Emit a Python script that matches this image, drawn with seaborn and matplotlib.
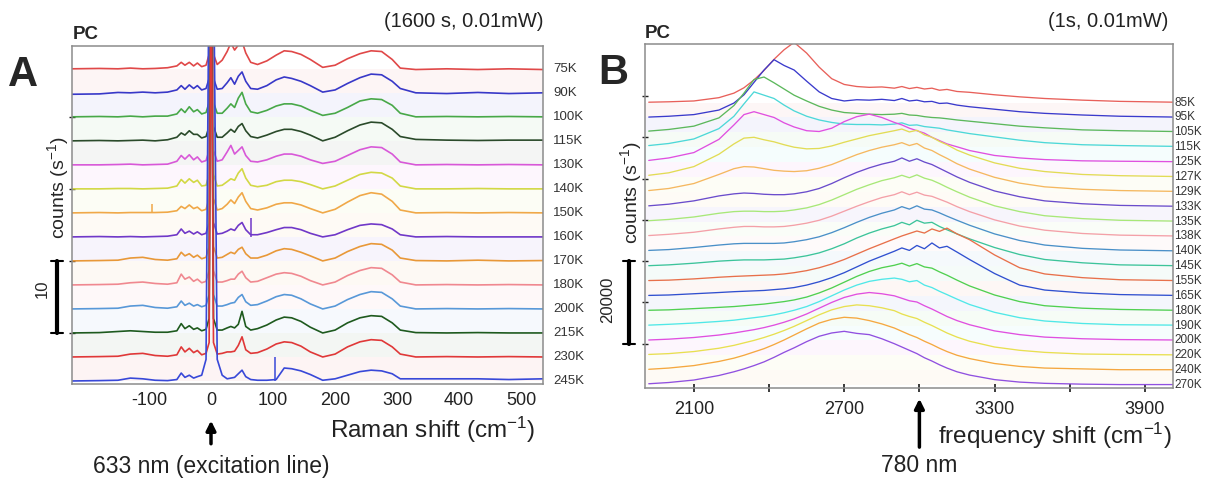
import numpy as np
import pandas as pd
import matplotlib
matplotlib.use("Agg")
import matplotlib.pyplot as plt
import seaborn as sns

sns.set_theme(style="white")
plt.rcParams["font.family"] = ["Liberation Sans", "DejaVu Sans"]
plt.rcParams["mathtext.default"] = "regular"

# ---------------- Panel A data (Raman shift, counts/s above each baseline) ----------------
A_X = [-224, -180, -150, -130, -110, -90, -70, -55, -48, -42, -35, -28, -22, -15, -8, -3, 0, 4, 10,
       18, 26, 32, 38, 44, 50, 56, 64, 75, 90, 105, 118, 130, 145, 160, 180, 200, 220, 240, 258,
       275, 292, 305, 330, 380, 430, 480, 535]
A_LABELS = ["75K", "90K", "100K", "115K", "130K", "140K", "150K", "160K", "170K", "180K",
            "200K", "215K", "230K", "245K"]
A_COLORS = ["#e04848", "#3838c8", "#48a848", "#2a4a2a", "#d858d8", "#d2d845", "#f0a848",
            "#7038c8", "#e89838", "#f08890", "#5898d8", "#1e5a1e", "#e03838", "#3848d8"]
a_75K = [0, 0.05, 0, 0.1, 0, 0.05, 0.15, 0.4, 0.9, 0.5, 0.9, 0.4, 0.8, 0.3, 0.5, 2, 60, 2, 0.6,
         1.2, 2.4, 3.6, 2.6, 3.3, 3.8, 2.2, 0.9, 0.6, 1.1, 1.9, 2.5, 2.4, 2.0, 1.3, 0.2, 0.5, 1.4,
         2.1, 2.5, 2.4, 1.3, 0.1, -0.1, 0, -0.1, 0, -0.1]
a_90K = [-0.2, -0.15, 0.05, 0, 0.1, 0, 0.1, 0.4, 1.0, 0.5, 1.1, 0.6, 1.0, 0.4, 0.6, 2, 60, 2, 0.5,
         0.6, 1.4, 2.1, 1.2, 2.3, 2.9, 1.6, 0.6, 0.5, 1.0, 1.8, 2.2, 2.0, 1.6, 1.0, 0.1, 0.4, 1.3,
         2.1, 2.6, 2.5, 1.6, 0.6, 0, -0.1, 0.05, -0.1, 0]
a_100K = [0, 0.05, 0, 0.1, 0, 0.1, 0.1, 0.4, 1.1, 0.6, 1.4, 0.7, 1.0, 0.4, 0.6, 2, 60, 2, 0.5,
          0.5, 1.2, 1.8, 1.3, 2.6, 3.4, 1.8, 0.7, 0.5, 0.9, 1.5, 1.8, 1.8, 1.5, 0.9, 0.2, 0.5, 1.3,
          2.2, 2.5, 2.4, 1.6, 0.5, 0, 0.05, 0, 0.05, 0]
a_115K = [0, 0.05, 0, 0.05, 0.1, 0, 0.15, 0.5, 1.1, 0.8, 1.4, 0.9, 0.9, 0.4, 0.6, 2, 60, 2, 0.5,
          0.5, 1.1, 1.6, 1.2, 2.0, 2.4, 1.4, 0.6, 0.4, 0.8, 1.3, 1.6, 1.6, 1.3, 0.8, 0, 0.5, 1.4,
          2.2, 2.6, 2.5, 1.6, 0.6, 0.2, 0.1, 0.05, 0.1, 0.1]
a_130K = [0, 0, 0.05, 0.1, 0, 0.05, 0.1, 0.5, 1.3, 0.8, 1.4, 0.7, 1.1, 0.4, 0.6, 2, 60, 2, 0.5,
          0.7, 1.8, 2.7, 1.5, 2.0, 2.5, 1.3, 0.5, 0.4, 0.7, 1.2, 1.5, 1.5, 1.2, 0.7, 0.2, 0.5, 1.3,
          2.1, 2.5, 2.4, 1.5, 0.4, 0, 0.05, 0, 0.05, 0]
a_140K = [0, 0, 0.05, 0.05, 0, 0.05, 0.1, 0.4, 1.3, 0.8, 1.4, 0.9, 1.2, 0.4, 0.5, 2, 60, 2, 0.4,
          0.5, 1.0, 1.4, 1.2, 2.2, 2.8, 1.5, 0.5, 0.3, 0.5, 1.0, 1.2, 1.2, 1.0, 0.6, 0, 0.4, 1.2,
          2.0, 2.3, 2.2, 1.5, 0.4, 0, 0, 0.05, 0, 0]
a_150K = [0, 0.05, 0, 0.05, 0.05, 0.05, 0.1, 0.3, 0.9, 0.6, 1.1, 0.6, 0.8, 0.3, 0.5, 2, 60, 2, 0.4,
          0.6, 1.2, 1.8, 1.3, 2.2, 2.8, 1.6, 0.6, 0.4, 0.7, 1.2, 1.4, 1.4, 1.1, 0.6, 0, 0.5, 1.5,
          2.4, 2.8, 2.6, 1.6, 0.4, 0, 0.05, 0, 0.05, 0]
a_160K = [0, 0.05, 0, 0.05, 0, 0.05, 0.1, 0.3, 1.1, 0.5, 0.8, 0.4, 0.7, 0.3, 0.5, 2, 60, 2, 0.4,
          0.5, 0.8, 1.1, 0.9, 1.6, 2.0, 1.0, 0.3, 0.3, 0.6, 1.0, 1.3, 1.3, 1.0, 0.5, 0, 0.3, 1.0,
          1.6, 1.8, 1.7, 1.1, 0.3, 0, 0.05, 0, 0, 0]
a_170K = [0, 0.05, 0.1, 0.4, 0.5, 0.2, 0.1, 0.3, 1.2, 0.7, 1.0, 0.5, 0.8, 0.3, 0.5, 2, 60, 2, 0.4,
          0.5, 0.9, 1.2, 1.0, 1.6, 1.9, 1.0, 0.4, 0.4, 0.8, 1.4, 1.7, 1.6, 1.2, 0.7, 0, 0.4, 1.3,
          2.0, 2.4, 2.3, 1.5, 0.4, 0.05, 0, 0.1, 0, 0.05]
a_180K = [0, 0.05, 0.1, 0.3, 0.4, 0.2, 0.1, 0.3, 1.5, 0.8, 1.1, 0.5, 0.8, 0.3, 0.5, 2, 60, 2, 0.4,
          0.4, 0.6, 0.8, 0.8, 1.5, 1.9, 1.0, 0.4, 0.5, 1.0, 1.5, 1.7, 1.6, 1.2, 0.6, 0, 0.4, 1.3,
          2.0, 2.4, 2.3, 1.4, 0.4, 0, 0.05, 0, 0.05, 0]
a_200K = [0, 0.05, 0.1, 0.4, 0.5, 0.2, 0.1, 0.3, 1.1, 0.5, 0.8, 0.4, 0.6, 0.3, 0.5, 2, 60, 2, 0.4,
          0.4, 0.6, 0.8, 0.9, 1.6, 2.0, 1.0, 0.5, 0.6, 1.1, 1.7, 2.0, 1.9, 1.4, 0.7, 0, 0.4, 1.3,
          2.0, 2.4, 2.3, 1.4, 0.4, 0, 0.05, 0, 0.05, 0]
a_215K = [0, 0.05, 0.2, 0.3, 0.2, 0.1, 0.1, 0.3, 1.3, 0.6, 1.0, 0.5, 0.7, 0.3, 0.5, 2, 60, 2, 0.4,
          0.4, 0.7, 0.9, 0.7, 1.2, 3.0, 0.9, 0.4, 0.6, 1.1, 1.8, 2.2, 2.1, 1.6, 0.8, 0, 0.4, 1.4,
          2.1, 2.4, 2.3, 1.4, 0.4, 0.05, 0, 0.05, 0, 0]
a_230K = [0, 0.05, 0.1, 0.4, 0.5, 0.2, 0.1, 0.3, 1.4, 0.7, 1.2, 0.6, 0.9, 0.3, 0.5, 2, 60, 2, 0.4,
          0.5, 0.7, 0.7, 0.8, 1.6, 2.8, 1.0, 0.5, 0.6, 1.1, 1.8, 2.1, 2.0, 1.5, 0.7, 0, 0.4, 1.4,
          2.1, 2.4, 2.3, 1.4, 0.4, 0, 0.05, 0, 0.05, 0]
a_245K = [0, 0.05, 0.1, 0.4, 0.3, 0.1, 0.05, 0.2, 1.1, 0.5, 0.8, 0.4, 0.6, 0.8, 3.0, 60, 60, 60, 3.0,
          0.8, 0.3, 0.4, 0.5, 1.0, 1.5, 0.6, 0.2, 0.1, 0.1, 0.2, 1.8, 1.7, 1.4, 0.9, 0.1, 0.3, 0.8,
          1.3, 1.5, 1.4, 1.0, 0.3, 0.3, 0.3, 0.3, 0.2, 0.3]
A_SPECTRA = [a_75K, a_90K, a_100K, a_115K, a_130K, a_140K, a_150K, a_160K, a_170K, a_180K,
             a_200K, a_215K, a_230K, a_245K]
A_SPIKE_LABEL = ["150K", "160K", "245K"]
A_SPIKE_X = [-95, 64, 103]
A_SPIKE_H = [1.3, 2.6, 3.3]
A_XTICKS = [-100, 0, 100, 200, 300, 400, 500]
A_STEP = 10 / 3          # counts between baselines
A_SCALE = 10             # scale bar (counts/s)

# ---------------- Panel B data (frequency shift, thousands of counts) ----------------
B_X = [1920, 2000, 2100, 2200, 2260, 2300, 2340, 2380, 2420, 2460, 2500, 2550, 2600, 2650, 2700,
       2750, 2800, 2850, 2900, 2930, 2960, 2990, 3020, 3050, 3080, 3110, 3150, 3200, 3300, 3400,
       3500, 3650, 3800, 4020]
B_LABELS = ["85K", "95K", "105K", "115K", "125K", "127K", "129K", "133K", "135K", "138K",
            "140K", "145K", "155K", "165K", "180K", "190K", "200K", "220K", "240K", "270K"]
B_COLORS = ["#e8605a", "#3a3acc", "#5cb85c", "#4dd8d8", "#e050e0", "#e2dc55", "#f5b860",
            "#6a4ccc", "#a8e878", "#f4a0a8", "#4a90c8", "#3cc49a", "#e8704a", "#3050d0",
            "#50d050", "#50e8e8", "#e050e0", "#e8e050", "#f5a840", "#9050e0"]
b_85K = [0.1, 0.2, 0.4, 1.2, 2.3, 3.6, 5.5, 7.8, 10.5, 12.8, 14.6, 12.0, 8.6, 5.8, 4.4, 3.9, 3.7,
         3.8, 3.5, 3.9, 3.4, 3.7, 3.3, 3.5, 3.0, 3.2, 2.7, 2.5, 1.9, 1.4, 1.0, 0.6, 0.3, 0.1]
b_95K = [0.1, 0.3, 0.7, 1.8, 3.5, 5.5, 8.5, 11.5, 14.0, 12.6, 11.5, 8.8, 6.2, 4.6, 4.0, 4.3, 4.2,
         4.4, 4.1, 4.6, 4.0, 4.2, 3.8, 3.9, 3.4, 3.5, 3.0, 2.6, 2.0, 1.4, 1.0, 0.6, 0.3, 0.1]
b_105K = [0.3, 0.7, 1.5, 3.5, 6.5, 9.5, 12.8, 13.4, 12.0, 10.5, 9.0, 7.6, 6.3, 5.4, 4.8, 4.6, 4.4,
          4.3, 4.4, 4.6, 4.2, 4.1, 3.8, 3.6, 3.5, 3.3, 3.0, 2.7, 2.1, 1.5, 1.1, 0.6, 0.4, 0.2]
b_115K = [0.4, 0.9, 2.0, 4.5, 7.5, 10.5, 13.4, 12.6, 11.8, 10.2, 8.8, 7.5, 6.6, 6.0, 5.6, 5.5, 5.5,
          5.4, 5.6, 5.9, 5.3, 5.4, 5.0, 4.8, 4.6, 4.2, 3.8, 3.3, 2.5, 1.7, 1.1, 0.6, 0.4, 0.2]
b_125K = [0.4, 1.0, 2.3, 5.5, 9.0, 11.5, 12.2, 11.5, 10.8, 9.5, 8.5, 7.6, 7.4, 8.2, 9.8, 11.0, 11.6,
          10.8, 9.6, 9.0, 8.2, 7.6, 7.0, 6.0, 5.2, 4.4, 3.7, 2.8, 1.6, 1.0, 0.6, 0.3, 0.2, 0.1]
b_127K = [0.4, 1.0, 2.5, 5.5, 8.0, 9.4, 9.6, 9.0, 8.5, 7.8, 7.2, 6.8, 6.9, 7.5, 8.4, 9.2, 10.0,
          10.6, 11.2, 11.6, 10.9, 11.3, 10.2, 9.6, 8.6, 7.8, 6.5, 5.3, 3.4, 2.1, 1.3, 0.6, 0.3, 0.1]
b_129K = [0.3, 0.8, 2.0, 4.2, 5.6, 6.1, 6.0, 5.6, 5.2, 5.0, 4.9, 5.1, 5.7, 6.6, 7.8, 9.0, 10.0,
          10.8, 11.4, 11.9, 11.2, 11.7, 10.6, 10.0, 9.0, 8.1, 6.8, 5.5, 3.5, 2.1, 1.2, 0.6, 0.3, 0.1]
b_133K = [0.2, 0.6, 1.4, 2.6, 3.1, 3.3, 3.2, 3.0, 2.9, 2.9, 3.1, 3.6, 4.4, 5.6, 7.0, 8.3, 9.4,
          10.3, 11.0, 11.8, 11.0, 11.6, 10.8, 10.2, 9.3, 8.4, 7.2, 5.9, 3.8, 2.4, 1.4, 0.7, 0.3, 0.1]
b_135K = [0.2, 0.5, 1.1, 2.0, 2.4, 2.5, 2.5, 2.4, 2.4, 2.5, 2.8, 3.3, 4.1, 5.2, 6.5, 7.8, 8.9,
          9.9, 10.6, 11.2, 10.6, 11.3, 10.5, 10.0, 9.2, 8.3, 7.2, 5.9, 3.8, 2.4, 1.4, 0.7, 0.3, 0.1]
b_138K = [0.2, 0.5, 1.0, 1.8, 2.2, 2.4, 2.4, 2.3, 2.3, 2.4, 2.7, 3.2, 3.9, 4.9, 6.1, 7.3, 8.4,
          9.4, 10.1, 10.8, 10.1, 10.7, 10.0, 9.7, 9.0, 8.3, 7.2, 6.0, 4.0, 2.5, 1.5, 0.7, 0.3, 0.1]
b_140K = [0.2, 0.4, 0.9, 1.5, 1.8, 1.9, 1.9, 1.9, 1.9, 2.0, 2.3, 2.8, 3.5, 4.5, 5.7, 7.0, 8.2,
          9.2, 10.0, 10.8, 10.2, 11.0, 10.2, 10.0, 9.3, 8.5, 7.5, 6.3, 4.2, 2.6, 1.5, 0.7, 0.3, 0.1]
b_145K = [0.1, 0.3, 0.7, 1.2, 1.4, 1.5, 1.5, 1.5, 1.6, 1.7, 2.0, 2.5, 3.2, 4.2, 5.4, 6.8, 8.0,
          9.0, 9.8, 10.6, 10.0, 11.1, 10.4, 10.6, 9.6, 8.8, 7.8, 6.6, 4.5, 2.8, 1.6, 0.8, 0.3, 0.1]
b_155K = [0.1, 0.2, 0.5, 0.9, 1.1, 1.2, 1.3, 1.4, 1.5, 1.7, 2.0, 2.5, 3.2, 4.1, 5.2, 6.5, 7.8,
          9.0, 10.2, 10.9, 11.5, 12.1, 11.6, 12.6, 12.0, 12.8, 11.4, 10.0, 6.3, 3.2, 1.7, 0.8, 0.3, 0.1]
b_165K = [0.1, 0.2, 0.5, 0.8, 1.0, 1.1, 1.2, 1.3, 1.5, 1.7, 2.0, 2.6, 3.4, 4.4, 5.6, 7.0, 8.4,
          9.6, 10.8, 11.6, 11.0, 12.2, 11.4, 12.8, 11.6, 12.0, 10.6, 8.8, 5.4, 2.6, 1.4, 0.7, 0.3, 0.1]
b_180K = [0.1, 0.2, 0.5, 0.8, 1.0, 1.2, 1.4, 1.6, 1.9, 2.2, 2.6, 3.3, 4.3, 5.5, 6.9, 8.3, 9.5,
          10.4, 11.0, 11.5, 10.8, 11.4, 10.6, 10.3, 9.4, 8.6, 7.4, 6.0, 3.8, 2.2, 1.2, 0.6, 0.3, 0.1]
b_190K = [0.1, 0.3, 0.6, 1.0, 1.3, 1.6, 1.9, 2.2, 2.6, 3.1, 3.7, 4.6, 5.8, 7.2, 8.6, 9.8, 10.7,
          11.2, 11.5, 11.2, 10.6, 10.9, 9.8, 9.2, 8.3, 7.5, 6.4, 5.1, 3.2, 1.9, 1.1, 0.5, 0.2, 0.1]
b_200K = [0.1, 0.3, 0.7, 1.3, 1.8, 2.2, 2.6, 3.1, 3.7, 4.4, 5.2, 6.4, 7.8, 9.2, 10.4, 11.2, 11.6,
          11.3, 10.8, 10.2, 9.6, 9.3, 8.4, 7.6, 6.7, 5.8, 4.8, 3.8, 2.3, 1.4, 0.8, 0.4, 0.2, 0.1]
b_220K = [0.2, 0.4, 0.9, 1.7, 2.4, 3.0, 3.6, 4.3, 5.1, 6.0, 7.0, 8.4, 9.8, 11.0, 11.8, 12.2, 12.0,
          11.5, 10.8, 10.0, 9.4, 8.9, 8.0, 7.2, 6.3, 5.4, 4.4, 3.4, 2.0, 1.2, 0.7, 0.3, 0.2, 0.1]
b_240K = [0.2, 0.5, 1.1, 2.1, 2.9, 3.6, 4.4, 5.2, 6.2, 7.3, 8.5, 10.0, 11.4, 12.3, 12.8, 12.6, 12.0,
          11.2, 10.2, 9.4, 8.6, 7.9, 7.0, 6.2, 5.3, 4.5, 3.6, 2.8, 1.6, 0.9, 0.5, 0.3, 0.1, 0.1]
b_270K = [0.3, 0.6, 1.2, 2.3, 3.2, 3.9, 4.7, 5.6, 6.7, 7.9, 9.0, 10.5, 11.8, 12.6, 13.0, 12.5, 12.2,
          11.2, 10.0, 9.2, 8.4, 7.6, 6.6, 5.8, 4.9, 4.1, 3.2, 2.4, 1.3, 0.7, 0.4, 0.2, 0.1, 0.1]
B_SPECTRA = [b_85K, b_95K, b_105K, b_115K, b_125K, b_127K, b_129K, b_133K, b_135K, b_138K,
             b_140K, b_145K, b_155K, b_165K, b_180K, b_190K, b_200K, b_220K, b_240K, b_270K]
B_XTICKS = [2100, 2400, 2700, 3000, 3300, 3600, 3900]
B_XTICKLABELS = ["2100", "", "2700", "", "3300", "", "3900"]
B_STEP = 3600            # counts between baselines
B_SCALE = 20000          # scale bar (counts/s)

# ---------------- figure ----------------
W, H = 1210, 478
fig = plt.figure(figsize=(W / 100, H / 100), dpi=100)


def px_axes(l, t, r, b):
    return fig.add_axes([l / W, 1 - b / H, (r - l) / W, (b - t) / H])


axA = px_axes(72, 46, 543, 384)
axB = px_axes(645, 44, 1173, 388)
GRAY = "#8c8c8c"

# ---- panel A ----
nA = len(A_SPECTRA)
A_XLIM = (-224, 535)
for i, (lab, col, vals) in enumerate(zip(A_LABELS, A_COLORS, A_SPECTRA)):
    base = (nA - 1 - i) * A_STEP
    y = np.array(vals) + base
    if i < nA - 1:
        axA.fill_between(A_XLIM, base - A_STEP, base, color=col, alpha=0.05, lw=0, zorder=0)
    sns.lineplot(x=A_X, y=y, ax=axA, color=col, lw=1.2, estimator=None, sort=False, zorder=2)
    for sl, sx, sh in zip(A_SPIKE_LABEL, A_SPIKE_X, A_SPIKE_H):
        if sl == lab:
            axA.vlines(sx, base, base + sh, color=col, lw=1.1, zorder=2)
    axA.text(1.021, base, lab, transform=axA.get_yaxis_transform(), fontsize=9.5,
             ha="left", va="center", color="#333333")
axA.set_xlim(*A_XLIM)
axA.set_ylim(-0.42, 46.5)
axA.set_xticks(A_XTICKS)
axA.set_xticklabels([str(t) for t in A_XTICKS])
axA.set_yticks([A_STEP * 2 + 10 * k for k in range(4)])
axA.set_yticklabels([])
axA.tick_params(axis="x", length=0, pad=6, labelsize=13, colors="#222222")
axA.tick_params(axis="y", length=5, direction="inout", width=1, colors="#222222", left=True)

# ---- panel B ----
nB = len(B_SPECTRA)
B_XLIM = (1905, 4012)
for i, (lab, col, vals) in enumerate(zip(B_LABELS, B_COLORS, B_SPECTRA)):
    base = (nB - 1 - i) * B_STEP
    y = np.array(vals) * 1000 + base
    if i < nB - 1:
        axB.fill_between(B_XLIM, base - B_STEP, base, color=col, alpha=0.05, lw=0, zorder=0)
    sns.lineplot(x=B_X, y=y, ax=axB, color=col, lw=0.95, estimator=None, sort=False, zorder=2)
    axB.text(1.002, base, lab, transform=axB.get_yaxis_transform(), fontsize=8.5,
             ha="left", va="center", color="#333333", clip_on=False,
             family=["Liberation Sans Narrow", "Liberation Sans", "DejaVu Sans"])
axB.set_xlim(*B_XLIM)
axB.set_ylim(-730, 82600)
axB.set_xticks(B_XTICKS)
axB.set_xticklabels(B_XTICKLABELS)
axB.set_yticks([10000 * k for k in range(1, 8)])
axB.set_yticklabels([])
axB.tick_params(axis="x", length=6, direction="inout", pad=6, labelsize=13, colors="#222222",
                bottom=True)
axB.tick_params(axis="y", length=5, direction="inout", width=1, colors="#222222", left=True)

for ax in (axA, axB):
    for s in ax.spines.values():
        s.set_color(GRAY)
        s.set_linewidth(1.1)
    ax.set_xlabel("")
    ax.set_ylabel("")

# ---- scale bars & y labels ----
tA = axA.get_yaxis_transform()
yb0, yb1 = A_STEP * 2, A_STEP * 2 + A_SCALE
axA.plot([-0.032, -0.032], [yb0, yb1], transform=tA, color="black", lw=3, clip_on=False)
for yy in (yb0, yb1):
    axA.plot([-0.045, -0.019], [yy, yy], transform=tA, color="black", lw=1.5, clip_on=False)
axA.text(-0.064, yb0 + 0.62 * A_SCALE, "10", transform=tA, rotation=90, fontsize=12,
         ha="center", va="center")
axA.text(-0.030, 26.8, "counts (s$^{-1}$)", transform=tA, rotation=90, fontsize=14,
         ha="center", va="center")

tB = axB.get_yaxis_transform()
yc0, yc1 = 10000, 10000 + B_SCALE
axB.plot([-0.030, -0.030], [yc0, yc1], transform=tB, color="black", lw=3, clip_on=False)
for yy in (yc0, yc1):
    axB.plot([-0.042, -0.018], [yy, yy], transform=tB, color="black", lw=1.5, clip_on=False)
axB.text(-0.070, 20600, "20000", transform=tB, rotation=90, fontsize=12,
         ha="center", va="center")
axB.text(-0.027, 46700, "counts (s$^{-1}$)", transform=tB, rotation=90, fontsize=14,
         ha="center", va="center")

# ---- titles / annotations ----
axA.text(0.002, 1.035, "PC", transform=axA.transAxes, fontsize=13.5, fontweight="bold",
         ha="left", va="center")
axA.text(1.0, 1.072, "(1600 s, 0.01mW)", transform=axA.transAxes, fontsize=14.5,
         ha="right", va="center", color="#222222")
axB.text(0.0, 1.03, "PC", transform=axB.transAxes, fontsize=13.5, fontweight="bold",
         ha="left", va="center")
axB.text(0.991, 1.066, "(1s, 0.01mW)", transform=axB.transAxes, fontsize=14.5,
         ha="right", va="center", color="#222222")
fig.text(8 / W, 1 - 75 / H, "A", fontsize=30, fontweight="bold", ha="left", va="center")
fig.text(598 / W, 1 - 73 / H, "B", fontsize=30, fontweight="bold", ha="left", va="center")

axA.text(0.983, -0.136, "Raman shift (cm$^{-1}$)", transform=axA.transAxes, fontsize=17.5,
         ha="right", va="center", color="#222222")
axB.text(0.998, -0.14, "frequency shift (cm$^{-1}$)", transform=axB.transAxes, fontsize=17.5,
         ha="right", va="center", color="#222222")

xA = axA.get_xaxis_transform()
axA.annotate("", xy=(0, -0.10), xycoords=xA, xytext=(0, -0.185), textcoords=xA,
             arrowprops=dict(arrowstyle="-|>", lw=2.5, color="black", mutation_scale=14))
axA.text(0, -0.243, "633 nm (excitation line)", transform=xA, fontsize=16.5,
         ha="center", va="center", color="#222222")
xB = axB.get_xaxis_transform()
axB.annotate("", xy=(3000, -0.023), xycoords=xB, xytext=(3000, -0.18), textcoords=xB,
             arrowprops=dict(arrowstyle="-|>", lw=2.5, color="black", mutation_scale=14))
axB.text(3000, -0.224, "780 nm", transform=xB, fontsize=16.5, ha="center", va="center",
         color="#222222")

fig.savefig("out.png", dpi=100)
